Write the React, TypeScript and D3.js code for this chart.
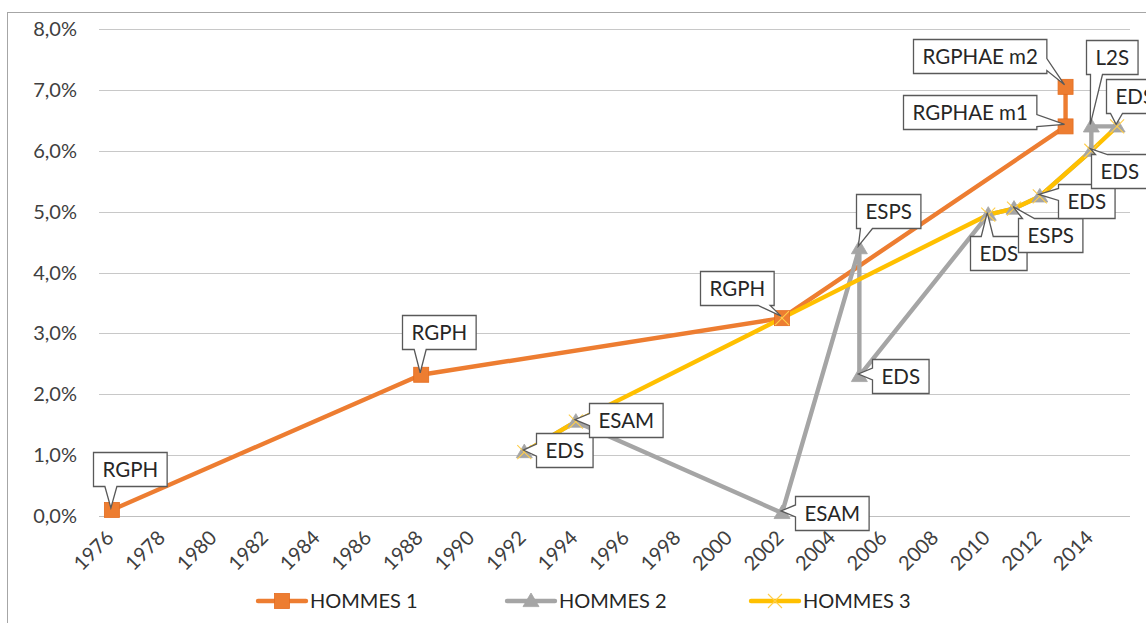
import React, { useLayoutEffect, useRef, useState } from 'react';
import * as d3 from 'd3';

// ---- Data ----
const xTickYears = [1976, 1978, 1980, 1982, 1984, 1986, 1988, 1990, 1992, 1994, 1996, 1998, 2000, 2002, 2004, 2006, 2008, 2010, 2012, 2014];
const yTickValues = [0, 1, 2, 3, 4, 5, 6, 7, 8];

const seriesNames = ['HOMMES 1', 'HOMMES 2', 'HOMMES 3'];

const years1 = [1976, 1988, 2002, 2013, 2013];
const hommes1 = [0.1, 2.32, 3.25, 6.4, 7.05];
const labels1 = ['RGPH', 'RGPH', 'RGPH', 'RGPHAE m1', 'RGPHAE m2'];

const years2 = [1992, 1994, 2002, 2005, 2005, 2010, 2011, 2012, 2014, 2014, 2015];
const hommes2 = [1.05, 1.55, 0.05, 4.4, 2.3, 4.95, 5.05, 5.25, 6.0, 6.4, 6.4];
const labels2 = ['EDS', 'ESAM', 'ESAM', 'ESPS', 'EDS', 'EDS', 'ESPS', 'EDS', 'EDS', 'L2S', 'EDS'];

const years3 = [1992, 1994, 2002, 2010, 2011, 2012, 2014, 2015];
const hommes3 = [1.05, 1.55, 3.25, 4.95, 5.05, 5.25, 6.0, 6.4];

// ---- Layout (callout box centre offsets from the point, px) ----
const labelOffsets1: [number, number][] = [[17.5, -41], [18, -43], [-45, -30.5], [-96, -14], [-86, -31]];
const labelOffsets2: [number, number][] = [[40, -2], [50, -1.5], [50, 0], [28.5, -37.5], [41, 0], [10, 38.5], [36, 26], [46, 4.5], [27.5, 20], [20.5, -69.5], [17.5, -30.5]];

const W = 1146;
const H = 623;
const COLORS = ['#ED7D31', '#A5A5A5', '#FFC000'];
const FONT = 'Lato, Carlito, Calibri, sans-serif';
const LABEL_FS = 20.5;
const AXIS_FS = 20;
const legendX = [258, 507, 751];
const legendY = 601;

function calloutPath(x0: number, y0: number, x1: number, y1: number, tx: number, ty: number) {
  const hw = 6;
  const clamp = (v: number, a: number, b: number) => Math.max(a, Math.min(b, v));
  const ex = { top: y0 - ty, bottom: ty - y1, left: x0 - tx, right: tx - x1 };
  let side: 'top' | 'bottom' | 'left' | 'right' = 'bottom';
  let best = -Infinity;
  (Object.keys(ex) as (keyof typeof ex)[]).forEach((k) => {
    if (ex[k] > best) { best = ex[k]; side = k; }
  });
  if (side === 'bottom') {
    const c = clamp(tx, x0 + 10, x1 - 10);
    return `M${x0},${y0}H${x1}V${y1}H${c + hw}L${tx},${ty}L${c - hw},${y1}H${x0}Z`;
  }
  if (side === 'top') {
    const c = clamp(tx, x0 + 10, x1 - 10);
    return `M${x0},${y0}H${c - hw}L${tx},${ty}L${c + hw},${y0}H${x1}V${y1}H${x0}Z`;
  }
  if (side === 'right') {
    const c = clamp(ty, y0 + 9, y1 - 9);
    return `M${x0},${y0}H${x1}V${c - hw}L${tx},${ty}L${x1},${c + hw}V${y1}H${x0}Z`;
  }
  const c = clamp(ty, y0 + 9, y1 - 9);
  return `M${x0},${y0}H${x1}V${y1}H${x0}V${c + hw}L${tx},${ty}L${x0},${c - hw}Z`;
}

function Marker({ kind, x, y }: { kind: number; x: number; y: number }) {
  if (kind === 0) {
    const s = 15;
    return <rect x={x - s / 2} y={y - s / 2} width={s} height={s} fill={COLORS[0]} stroke="#E46C1F" strokeWidth={0.8} />;
  }
  if (kind === 1) {
    const s = 8;
    return <path d={`M${x},${y - s}L${x + s},${y + s * 0.7}L${x - s},${y + s * 0.7}Z`} fill={COLORS[1]} stroke={COLORS[1]} strokeWidth={0.8} />;
  }
  const s = 7;
  return <path d={`M${x - s},${y - s}L${x + s},${y + s}M${x - s},${y + s}L${x + s},${y - s}`} stroke="#FFCE4A" strokeWidth={1.1} fill="none" />;
}

export default function App() {
  const x = d3.scaleLinear().domain([1975.5, 2015.5]).range([99, 1130]);
  const y = d3.scaleLinear().domain([0, 8]).range([516, 29]);
  const line = d3.line<[number, number]>().x((d) => x(d[0])).y((d) => y(d[1]));

  const series = [
    { years: years1, vals: hommes1 },
    { years: years2, vals: hommes2 },
    { years: years3, vals: hommes3 },
  ];

  const callouts: { label: string; px: number; py: number; off: [number, number] }[] = [];
  labels1.forEach((l, i) => callouts.push({ label: l, px: x(years1[i]), py: y(hommes1[i]), off: labelOffsets1[i] }));
  labels2.forEach((l, i) => callouts.push({ label: l, px: x(years2[i]), py: y(hommes2[i]), off: labelOffsets2[i] }));

  const textRefs = useRef<(SVGTextElement | null)[]>([]);
  const [widths, setWidths] = useState<number[]>(callouts.map((c) => c.label.length * LABEL_FS * 0.6));
  useLayoutEffect(() => {
    const w = callouts.map((c, i) => {
      const el = textRefs.current[i];
      return el ? el.getComputedTextLength() : c.label.length * LABEL_FS * 0.6;
    });
    if (w.some((v, i) => Math.abs(v - widths[i]) > 0.5)) setWidths(w);
  });

  const fmt = (v: number) => v.toFixed(1).replace('.', ',') + '%';

  return (
    <svg width={W} height={H} style={{ position: 'absolute', left: 0, top: 0, background: '#fff' }} fontFamily={FONT}>
      <rect x={0} y={0} width={W} height={H} fill="#fff" />
      <rect x={7.5} y={12.5} width={W + 20} height={H + 20} fill="none" stroke="#A6A6A6" strokeWidth={1} />
      {/* gridlines */}
      {yTickValues.map((v) => (
        <line key={v} x1={99} x2={1130} y1={Math.round(y(v)) + 0.5} y2={Math.round(y(v)) + 0.5} stroke={v === 0 ? '#BFBFBF' : '#C8C8C8'} strokeWidth={1} />
      ))}
      {/* y labels */}
      {yTickValues.map((v) => (
        <text key={v} x={77} y={y(v)} dy="0.35em" textAnchor="end" fontSize={AXIS_FS} fill="#404040">{fmt(v)}</text>
      ))}
      {/* x labels */}
      {xTickYears.map((yr) => (
        <text key={yr} transform={`translate(${x(yr) + 3},${539}) rotate(-45)`} textAnchor="end" fontSize={AXIS_FS} fill="#404040">{yr}</text>
      ))}
      {/* lines */}
      {series.map((s, si) => (
        <path key={si} d={line(s.years.map((yr, i) => [yr, s.vals[i]] as [number, number])) || ''} fill="none" stroke={COLORS[si]} strokeWidth={4.4} strokeLinejoin="round" />
      ))}
      {/* markers */}
      {series.map((s, si) => (
        <g key={si}>
          {s.years.map((yr, i) => <Marker key={i} kind={si} x={x(yr)} y={y(s.vals[i])} />)}
        </g>
      ))}
      {/* callouts */}
      {callouts.map((c, i) => {
        const w = widths[i] + 18;
        const h = 34;
        const cx = c.px + c.off[0];
        const cy = c.py + c.off[1];
        const x0 = Math.round(cx - w / 2) + 0.5;
        const y0 = Math.round(cy - h / 2) + 0.5;
        return (
          <g key={i}>
            <path d={calloutPath(x0, y0, x0 + w, y0 + h, c.px - 1, c.py - 2)} fill="#fff" stroke="#595959" strokeWidth={1.3} strokeLinejoin="miter" />
            <text ref={(el) => { textRefs.current[i] = el; }} x={x0 + w / 2} y={y0 + h / 2} dy="0.35em" textAnchor="middle" fontSize={LABEL_FS} fill="#262626">{c.label}</text>
          </g>
        );
      })}
      {/* legend */}
      {seriesNames.map((n, i) => (
        <g key={n}>
          <line x1={legendX[i]} x2={legendX[i] + 48} y1={legendY} y2={legendY} stroke={COLORS[i]} strokeWidth={4.4} strokeLinecap="round" />
          <Marker kind={i} x={legendX[i] + 24} y={legendY} />
          <text x={legendX[i] + 52} y={legendY} dy="0.35em" fontSize={AXIS_FS} fill="#262626">{n}</text>
        </g>
      ))}
    </svg>
  );
}
